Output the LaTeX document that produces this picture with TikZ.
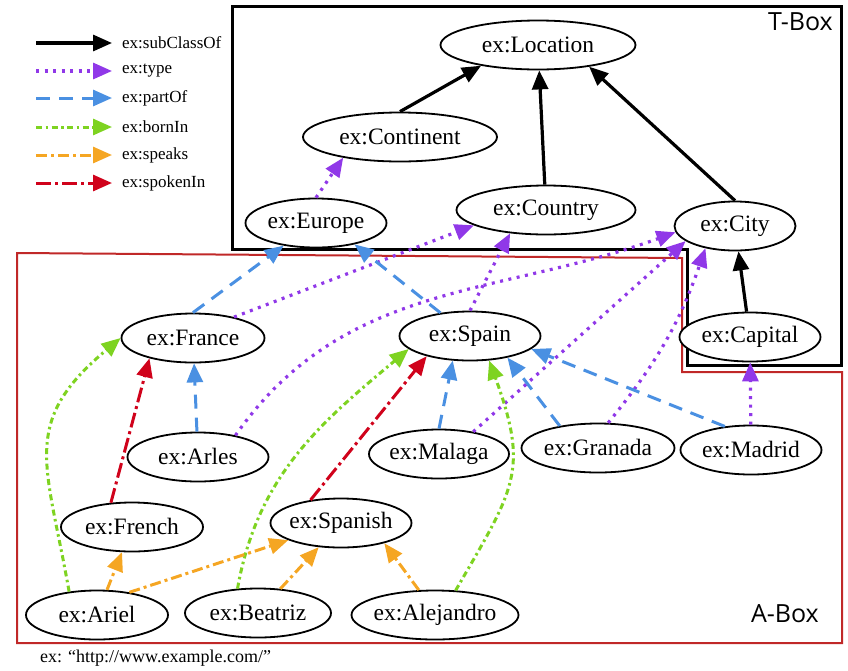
\documentclass[tikz,border=0pt]{standalone}
\usepackage{fontspec}
\usetikzlibrary{shapes.geometric,arrows.meta}
\setmainfont{Liberation Serif}
\newfontfamily\boxfont{Open Sans}
\definecolor{typepurple}{RGB}{144,56,232}
\definecolor{partblue}{RGB}{74,144,226}
\definecolor{borngreen}{RGB}{126,211,33}
\definecolor{speakorange}{RGB}{245,166,35}
\definecolor{spokenred}{RGB}{208,2,27}
\definecolor{aboxred}{RGB}{192,40,40}
\begin{document}
\begin{tikzpicture}[x=1pt,y=-1pt,
  res/.style={ellipse,draw=black,line width=1.8pt,fill=white,minimum height=49pt,minimum width=141pt,
    inner xsep=-3pt,inner ysep=0pt,font=\fontsize{23.5}{26}\selectfont},
  head/.style={-{Triangle[length=19pt,width=16pt]}},
  subcls/.style={head,line width=3.2pt,black},
  typeof/.style={head,line width=3.2pt,typepurple,dash pattern=on 3pt off 5.5pt},
  partof/.style={head,line width=3pt,partblue,dash pattern=on 14pt off 9pt},
  bornin/.style={head,line width=3pt,borngreen,dash pattern=on 6pt off 3.5pt on 2.5pt off 3.5pt},
  speaks/.style={head,line width=3pt,speakorange,dash pattern=on 11pt off 4pt on 3pt off 4pt},
  spoken/.style={head,line width=3pt,spokenred,dash pattern=on 15pt off 4pt on 3pt off 4pt},
  legend/.style={anchor=west,inner xsep=10pt,inner ysep=0pt,font=\fontsize{17}{19}\selectfont},
  boxname/.style={anchor=east,inner sep=0pt,font=\boxfont\fontsize{25}{28}\selectfont}]
 \useasboundingbox (0,0) rectangle (848,670);

 \coordinate (lg sub) at (36,43);
 \coordinate (lg type) at (36,71);
 \coordinate (lg part) at (36,98);
 \coordinate (lg born) at (36,127);
 \coordinate (lg speaks) at (36,155);
 \coordinate (lg spoken) at (36,183);
 \node (lab sub) at (112,43) [legend] {ex:subClassOf};
 \node (lab type) at (112,71) [legend] {ex:type};
 \node (lab part) at (112,98) [legend] {ex:partOf};
 \node (lab born) at (112,127) [legend] {ex:bornIn};
 \node (lab speaks) at (112,155) [legend] {ex:speaks};
 \node (lab spoken) at (112,183) [legend] {ex:spokenIn};
 \draw[subcls] (lg sub) -- (lab sub.west);
 \draw[typeof] (lg type) -- (lab type.west);
 \draw[partof] (lg part) -- (lab part.west);
 \draw[bornin] (lg born) -- (lab born.west);
 \draw[speaks] (lg speaks) -- (lab speaks.west);
 \draw[spoken] (lg spoken) -- (lab spoken.west);

 \draw[line width=3pt] (232,6) -- (841,6) -- (841,365) -- (687,365) -- (687,249) -- (232,249) -- cycle;
 \draw[aboxred,line width=2pt] (17,253) -- (682,258) -- (682,372) -- (842,372) -- (842,643) -- (17,643) -- cycle;
 \node (tbox) at (833,22) [boxname] {T-Box};
 \node (abox) at (819,614) [boxname] {A-Box};
 \node (prefix) at (40,658) [anchor=west,inner sep=0pt,font=\fontsize{18}{20}\selectfont] {ex: “http://www.example.com/”};

 \node (location) at (538,45) [res,minimum width=195pt] {ex:Location};
 \node (continent) at (400,137) [res,minimum width=194pt] {ex:Continent};
 \node (europe) at (316,223) [res] {ex:Europe};
 \node (country) at (546,210) [res,minimum width=179pt] {ex:Country};
 \node (city) at (735,226) [res,minimum width=121pt] {ex:City};
 \node (capital) at (750,337) [res] {ex:Capital};
 \node (france) at (193,338) [res,minimum width=143pt] {ex:France};
 \node (spain) at (470,336) [res] {ex:Spain};
 \node (arles) at (198,457) [res] {ex:Arles};
 \node (malaga) at (439,454) [res,minimum width=140pt] {ex:Malaga};
 \node (granada) at (598,448) [res,minimum width=153pt] {ex:Granada};
 \node (madrid) at (751,450) [res] {ex:Madrid};
 \node (french) at (132,527) [res,minimum width=142pt] {ex:French};
 \node (spanish) at (341,523) [res] {ex:Spanish};
 \node (ariel) at (97,615) [res,minimum width=142pt] {ex:Ariel};
 \node (beatriz) at (258,613) [res,minimum width=146pt] {ex:Beatriz};
 \node (alejandro) at (435,615) [res,minimum width=167pt] {ex:Alejandro};

 \draw[subcls] (continent.north) -- (location.200);
 \draw[subcls] (country) -- (location);
 \draw[subcls] (city.north) -- (location.-23);
 \draw[subcls] (capital) -- (city);

 \draw[typeof] (europe.north) -- (continent.200);
 \draw[typeof] (france.27) -- (country.192);
 \draw[typeof] (spain.north) -- (country.213);
 \draw[typeof] (arles.30) to[out=55,in=200] (city.186);
 \draw[typeof] (malaga.33) -- (city.197);
 \draw[typeof] (granada.68) to[bend right=10] (city.217);
 \draw[typeof] (madrid) -- (capital);

 \draw[partof] (france.north) -- (europe.215);
 \draw[partof] (spain.142) -- (europe.-29);
 \draw[partof] (arles) -- (france);
 \draw[partof] (malaga.north) -- (spain.235);
 \draw[partof] (granada.150) -- (spain.-30);
 \draw[partof] (madrid.138) -- (spain.-12);

 \draw[bornin] (ariel.140) to[out=100,in=220,looseness=1.3] (france.west);
 \draw[bornin] (beatriz.130) to[out=80,in=220] (spain.192);
 \draw[bornin] (alejandro.50) to[out=60,in=-70,looseness=1.3] (spain.-52);

 \draw[speaks] (ariel) -- (french);
 \draw[speaks] (ariel.35) -- (spanish.198);
 \draw[speaks] (beatriz) -- (spanish);
 \draw[speaks] (alejandro.123) -- (spanish.-25);

 \draw[spoken] (french.131) -- (france.205);
 \draw[spoken] (spanish.143) -- (spain.205);
\end{tikzpicture}
\end{document}
